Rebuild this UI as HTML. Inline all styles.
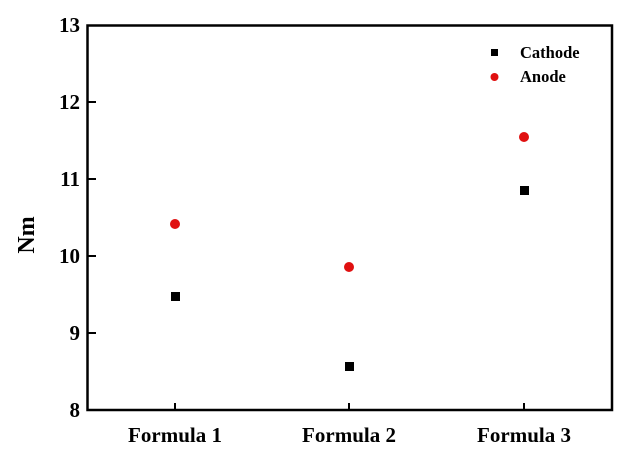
<!DOCTYPE html>
<html><head><style>body{margin:0;background:#fff}svg{display:block}</style></head><body>
<svg width="639" height="455" xmlns="http://www.w3.org/2000/svg" font-family="Liberation Serif, serif" font-weight="bold">
<rect x="87.5" y="25.5" width="524.5" height="384.5" fill="none" stroke="#000" stroke-width="2.5"/>
<g stroke="#000" stroke-width="2">
<line x1="88" y1="102" x2="96" y2="102"/><line x1="88" y1="179" x2="96" y2="179"/>
<line x1="88" y1="256" x2="96" y2="256"/><line x1="88" y1="333" x2="96" y2="333"/>
<line x1="175" y1="410" x2="175" y2="403"/><line x1="349" y1="410" x2="349" y2="403"/><line x1="524" y1="410" x2="524" y2="403"/>
</g>
<g font-size="21" text-anchor="end">
<text x="80" y="32">13</text><text x="80" y="109">12</text><text x="80" y="186">11</text>
<text x="80" y="263">10</text><text x="80" y="340">9</text><text x="80" y="417">8</text>
</g>
<g font-size="21" text-anchor="middle">
<text x="175" y="442">Formula 1</text><text x="349" y="442">Formula 2</text><text x="524" y="442">Formula 3</text>
</g>
<text transform="translate(34,235) rotate(-90)" font-size="24" text-anchor="middle">Nm</text>
<g fill="#000">
<rect x="171" y="292" width="9" height="9"/><rect x="345" y="362" width="9" height="9"/><rect x="520" y="186" width="9" height="9"/>
<rect x="491" y="49" width="7" height="7"/>
</g>
<g fill="#e01010">
<circle cx="175" cy="224" r="5"/><circle cx="349" cy="267" r="5"/><circle cx="524" cy="137" r="5"/>
<circle cx="494.5" cy="77" r="4"/>
</g>
<g font-size="16.5"><text x="520" y="58">Cathode</text><text x="520" y="82">Anode</text></g>
</svg>
</body></html>
